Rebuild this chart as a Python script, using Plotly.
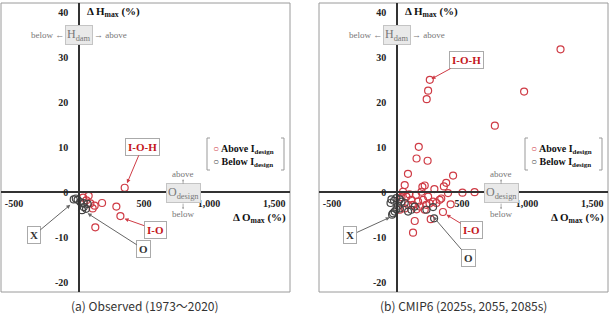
import plotly.graph_objects as go

W, H = 610, 318

# ---------------- data ----------------
obs_above_x = [351, 31, 74, 56, 87, 120, 105, 177, 287, 318, 125]
obs_above_y = [1.0, -1.2, -0.8, -1.8, -2.5, -3.0, -3.6, -2.4, -3.2, -5.3, -7.8]
obs_below_x = [-41, -25, -11, 10, 36, 66, 23, 54, 36]
obs_below_y = [-1.6, -1.4, -1.7, -2.2, -2.4, -2.6, -4.0, -3.7, -3.3]

cm_above_x = [1257, 252, 239, 228, 977, 752, 167, 150, 235, 84, 431, 378, 360, 213, 195,
              59, 287, 392, 503, 596, 188, 46, 340, 303, 412, 353, 259, 136, 123, 34,
              72, 110, 162, 200, 21, 59, 123, 239, 277, 328, 85, 213, 95, 145, 250,
              175, 150, 225, 20]
cm_above_y = [31.8, 25.0, 22.6, 20.7, 22.4, 14.8, 10.1, 7.5, 7.0, 4.1, 3.7, 2.1, 1.3, 1.5, 1.2,
              1.6, 0.7, -0.2, -0.1, 0.0, 0.1, 0.1, -1.4, -2.4, -2.7, -4.4, -6.0, -6.4, -9.0, -1.1,
              -1.0, -1.7, -2.1, -1.7, -3.9, -3.6, -2.8, -1.0, -2.1, -1.7, -2.8, -3.9, -0.5, -0.6, -2.5,
              -3.2, -3.8, -2.8, -1.5]
cm_below_x = [-43, -23, -5, 21, 34, 59, -31, -18, -5, 21, 85, 136, 226, 277, 285, -38, -50, 8, 110]
cm_below_y = [-1.6, -1.9, -1.3, -1.6, -2.1, -2.4, -4.7, -4.3, -3.8, -3.6, -4.3, -3.2, -3.9, -3.3,
              -5.8, -5.0, -2.4, -3.0, -3.9]

x_tickvals = [-500, 500, 1000, 1500]
x_ticktext = ["-500", "500", "1,000", "1,500"]
y_tickvals = [-20, -10, 0, 10, 20, 30, 40]
y_ticktext = ["-20", "-10", "0", "10", "20", "30", "40"]

series_names = ["Above I<sub>design</sub>", "Below I<sub>design</sub>"]
captions = ["(a) Observed (1973～2020)", "(b) CMIP6 (2025s, 2055, 2085s)"]

# ---------------- style ----------------
RED = "#CF3B45"
LABEL_RED = "#C4161C"
GRAY = "#444444"
SERIF = "Liberation Serif"
XR = [-600, 1622]
YR = [-22.2, 42.1]
XD = [[1 / W, 290 / W], [319 / W, 608 / W]]
YD = [26 / H, 315 / H]


def frac(v, rng, dom):
    return dom[0] + (v - rng[0]) / (rng[1] - rng[0]) * (dom[1] - dom[0])


fig = go.Figure()

panels = [
    (obs_above_x, obs_above_y, obs_below_x, obs_below_y),
    (cm_above_x, cm_above_y, cm_below_x, cm_below_y),
]

for i, (ax_, ay_, bx_, by_) in enumerate(panels):
    xa = "x" if i == 0 else "x2"
    ya = "y" if i == 0 else "y2"
    fig.add_trace(go.Scatter(x=ax_, y=ay_, mode="markers", xaxis=xa, yaxis=ya,
                             name=series_names[0], showlegend=False,
                             marker=dict(symbol="circle-open", size=7, color=RED,
                                         line=dict(width=1.2))))
    fig.add_trace(go.Scatter(x=bx_, y=by_, mode="markers", xaxis=xa, yaxis=ya,
                             name=series_names[1], showlegend=False,
                             marker=dict(symbol="circle-open", size=7, color=GRAY,
                                         line=dict(width=1.2))))

tickfont = dict(family=SERIF, size=10, color="#222", weight="bold")
layout = dict(width=W, height=H, margin=dict(l=0, r=0, t=0, b=0),
              paper_bgcolor="white", plot_bgcolor="white", showlegend=False)

for i in range(2):
    sfx = "" if i == 0 else "2"
    layout["xaxis" + sfx] = dict(domain=XD[i], range=XR, anchor="free",
                                 position=frac(0, YR, YD),
                                 showgrid=False, zeroline=False, showline=True,
                                 linecolor="#333", linewidth=1.5,
                                 tickvals=x_tickvals, ticktext=x_ticktext, ticks="",
                                 tickfont=tickfont, ticklabelstandoff=2)
    layout["yaxis" + sfx] = dict(domain=YD, range=YR, anchor="free",
                                 position=frac(0, XR, XD[i]),
                                 showgrid=False, zeroline=False, showline=True,
                                 linecolor="#333", linewidth=1.5,
                                 tickvals=y_tickvals, ticktext=y_ticktext, ticks="",
                                 tickfont=tickfont, ticklabelstandoff=8)
fig.update_layout(**layout)

shapes = []
anns = []
for i in range(2):
    xa = "x" if i == 0 else "x2"
    ya = "y" if i == 0 else "y2"
    # frame
    shapes.append(dict(type="rect", xref=xa + " domain", yref=ya + " domain",
                       x0=0, x1=1, y0=0, y1=1, line=dict(color="#9a9a9a", width=1),
                       layer="below"))
    # legend brackets (pixel-based decoration)
    lx = 207 if i == 0 else 525
    rx = lx + 77
    t, b = 1 - 138 / H, 1 - 170 / H
    for path in [
        f"M {(lx + 3) / W},{t} L {lx / W},{t} L {lx / W},{b} L {(lx + 3) / W},{b}",
        f"M {(rx - 3) / W},{t} L {rx / W},{t} L {rx / W},{b} L {(rx - 3) / W},{b}",
    ]:
        shapes.append(dict(type="path", xref="paper", yref="paper", path=path,
                           line=dict(color="#999", width=1)))
    # legend entries
    legfont = dict(family=SERIF, size=10, color="#111", weight="bold")
    for k, (col, nm) in enumerate([(RED, series_names[0]), (GRAY, series_names[1])]):
        anns.append(dict(x=(lx + 4) / W, y=1 - (149 + 13 * k) / H, xref="paper", yref="paper",
                         xanchor="left", yanchor="middle", showarrow=False,
                         text=f"<span style='color:{col}'>○</span> {nm}", font=legfont))

    # axis titles
    tfont = dict(family=SERIF, size=11, color="#111", weight="bold")
    anns.append(dict(x=0, y=40, xref=xa, yref=ya, xanchor="left", yanchor="middle",
                     xshift=6, showarrow=False, text="Δ H<sub>max</sub> (%)", font=tfont))
    anns.append(dict(x=0.993, y=-5.8, xref=xa + " domain", yref=ya, xanchor="right",
                     yanchor="middle", showarrow=False, text="Δ O<sub>max</sub> (%)",
                     font=tfont))

    # H_dam marker
    gfont = dict(family=SERIF, size=9, color="#777")
    anns.append(dict(x=0, y=35, xref=xa, yref=ya, showarrow=False,
                     text="H<sub>dam</sub>", bgcolor="#e9e9e9", bordercolor="#c4c4c4",
                     borderwidth=1, borderpad=1,
                     font=dict(family=SERIF, size=12, color="#777")))
    anns.append(dict(x=-100, y=35, xref=xa, yref=ya, xanchor="right", showarrow=False,
                     text="below ←", font=gfont))
    anns.append(dict(x=98, y=35, xref=xa, yref=ya, xanchor="left", showarrow=False,
                     text="→ above", font=gfont))

    # O_design marker
    anns.append(dict(x=800, y=-0.2, xref=xa, yref=ya, showarrow=False,
                     text="O<sub>design</sub>", bgcolor="#e9e9e9", bordercolor="#c4c4c4",
                     borderwidth=1, borderpad=1,
                     font=dict(family=SERIF, size=12, color="#777")))
    anns.append(dict(x=800, y=4.1, xref=xa, yref=ya, showarrow=False, text="above",
                     font=gfont))
    anns.append(dict(x=800, y=-4.8, xref=xa, yref=ya, showarrow=False, text="below",
                     font=gfont))
    anns.append(dict(x=800, y=2.9, ax=800, ay=1.5, xref=xa, yref=ya, axref=xa, ayref=ya,
                     text="", showarrow=True, arrowhead=2, arrowsize=0.5, arrowwidth=0.8,
                     arrowcolor="#999"))
    anns.append(dict(x=800, y=-3.8, ax=800, ay=-2.2, xref=xa, yref=ya, axref=xa, ayref=ya,
                     text="", showarrow=True, arrowhead=2, arrowsize=0.5, arrowwidth=0.8,
                     arrowcolor="#999"))

    # callout labels
    if i == 0:
        callouts = [("I-O-H", 487, 10.1, 369, 2.0, LABEL_RED, RED),
                    ("I-O", 585, -8.3, 350, -5.9, LABEL_RED, RED),
                    ("O", 498, -12.7, 66, -4.7, "#333", "#666"),
                    ("X", -348, -9.6, -67, -2.8, "#333", "#666")]
    else:
        callouts = [("I-O-H", 531, 29.4, 265, 25.2, LABEL_RED, RED),
                    ("I-O", 573, -8.4, 380, -5.0, LABEL_RED, RED),
                    ("O", 550, -14.6, 277, -5.4, "#333", "#666"),
                    ("X", -358, -9.6, -56, -5.6, "#333", "#666")]
    for txt, bx, by, hx, hy, tc, acol in callouts:
        anns.append(dict(x=hx, y=hy, ax=bx, ay=by, xref=xa, yref=ya, axref=xa, ayref=ya,
                         text=txt, showarrow=True, arrowhead=2, arrowsize=0.8,
                         arrowwidth=1, arrowcolor=acol, bgcolor="white",
                         bordercolor="#aaa", borderwidth=1, borderpad=2,
                         font=dict(family=SERIF, size=11, color=tc, weight="bold")))

    # caption
    anns.append(dict(x=(XD[i][0] + XD[i][1]) / 2, y=1 - 305 / H, xref="paper", yref="paper",
                     xanchor="center", yanchor="middle", showarrow=False, text=captions[i],
                     font=dict(family="Noto Sans CJK KR", size=12, color="#333")))

fig.update_layout(shapes=shapes, annotations=anns)
fig.write_html("out.html")
